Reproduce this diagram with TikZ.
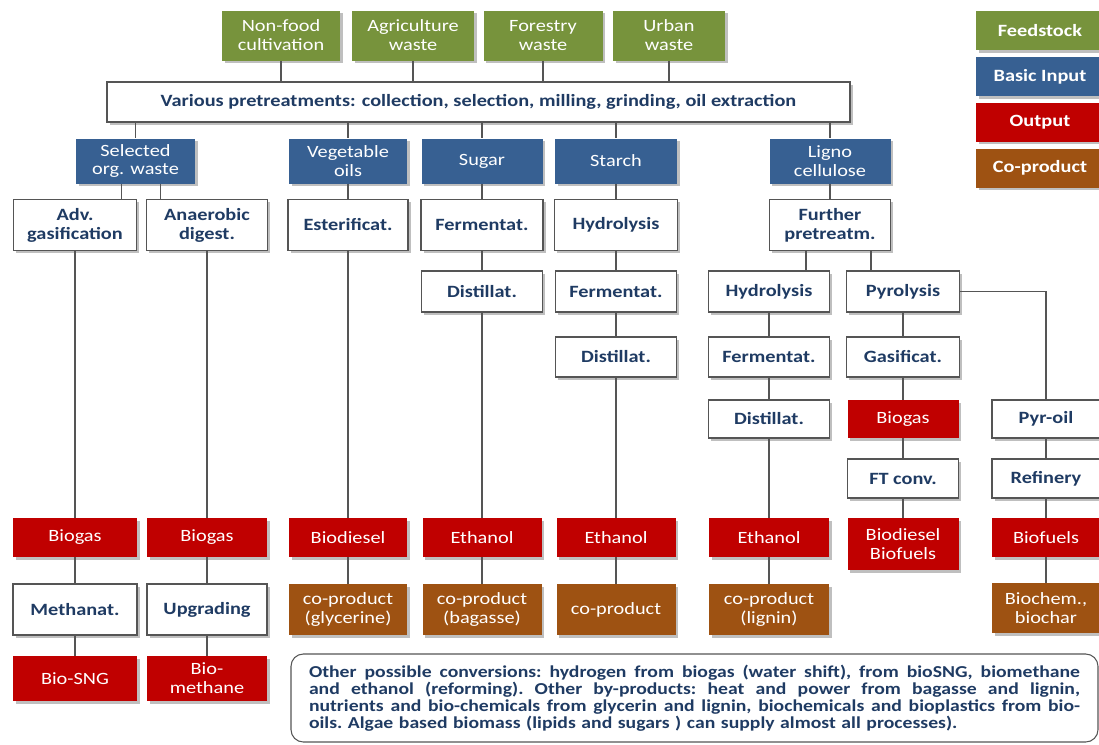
\documentclass[tikz,border=0pt]{standalone}
\usepackage{fontspec}
\setmainfont{Carlito}[FakeStretch=1.18]
\usetikzlibrary{shadows, calc}

\definecolor{feedgreen}{HTML}{77933C}
\definecolor{inputblue}{HTML}{376092}
\definecolor{outred}{HTML}{C00000}
\definecolor{cobrown}{HTML}{9E5212}
\definecolor{navytext}{HTML}{1F3B63}
\definecolor{linegray}{HTML}{555555}

\newlength\pxu
\setlength\pxu{0.02cm}
% one justified line of the note
\newcommand\noteline[1]{\leavevmode\hbox to 771\pxu{\spaceskip=0.23em plus 1em minus 0.05em\relax #1}}

\begin{document}
\begin{tikzpicture}[
            x = 0.02cm, y = -0.02cm, % one unit = one pixel of the layout
            bw/.style = {minimum width = #1*\pxu}, % box width
            bh/.style = {minimum height = #1*\pxu}, % box height
            link/.style = {draw = linegray, line width = 0.7pt} % connector
        ]

        \tikzstyle{box}=[
            rectangle,
            inner sep = 1pt,
            align = center,
            font = \fontsize{9.8}{10.8}\selectfont,
            drop shadow = {shadow xshift = 1.6pt, shadow yshift = -1.6pt,
                           fill = black, opacity = 0.25}
        ]
        \tikzstyle{feed}=[box, fill = feedgreen, text = white, bh = 50]
        \tikzstyle{basic}=[box, fill = inputblue, text = white, bh = 45]
        \tikzstyle{proc}=[box, draw = linegray, line width = 0.7pt, fill = white,
            text = navytext, font = \fontsize{9.8}{10.8}\selectfont\bfseries]
        \tikzstyle{outp}=[box, fill = outred, text = white]
        \tikzstyle{coprod}=[box, fill = cobrown, text = white]
        \tikzstyle{legend}=[box, text = white, bw = 128, bh = 39,
            font = \fontsize{9.8}{10.8}\selectfont\bfseries]

        \useasboundingbox (0,0) rectangle (1099,744);

        % feedstock
        \node[feed, bw=118] (nf) at (281,35.5) {Non-food\\cultivation};
        \node[feed, bw=122] (ag) at (413,35.5) {Agriculture\\waste};
        \node[feed, bw=119] (fo) at (543,35.5) {Forestry\\waste};
        \node[feed, bw=112] (ur) at (669,35.5) {Urban\\waste};

        \node[proc, bw=743, bh=40] (pre) at (478.5,102)
            {Various pretreatments: collection, selection, milling, grinding, oil extraction};

        % basic inputs
        \node[basic, bw=119] (sel) at (135.5,161) {Selected\\org. waste};
        \node[basic, bw=118] (veg) at (348,161) {Vegetable\\oils};
        \node[basic, bw=121] (sug) at (482,161) {Sugar};
        \node[basic, bw=122] (sta) at (616,161) {Starch};
        \node[basic, bw=121] (lig) at (830,161) {Ligno\\cellulose};

        % processes
        \node[proc, bw=123, bh=51] (adv) at (75,225) {Adv.\\gasification};
        \node[proc, bw=121, bh=51] (ana) at (207,225) {Anaerobic\\digest.};
        \node[proc, bw=120, bh=51] (est) at (348,225) {Esterificat.};
        \node[proc, bw=122, bh=51] (fer1) at (482,225) {Fermentat.};
        \node[proc, bw=123, bh=51] (hyd1) at (616,225) {Hydrolysis};
        \node[proc, bw=121, bh=51] (fur) at (830,225) {Further\\pretreatm.};

        \node[proc, bw=121, bh=41] (dis1) at (482,291.5) {Distillat.};
        \node[proc, bw=121, bh=41] (fer2) at (616,291.5) {Fermentat.};
        \node[proc, bw=121, bh=41] (hyd2) at (769,291.5) {Hydrolysis};
        \node[proc, bw=113, bh=41] (pyr) at (903,291.5) {Pyrolysis};

        \node[proc, bw=121, bh=40] (dis2) at (616,357) {Distillat.};
        \node[proc, bw=121, bh=40] (fer3) at (769,357) {Fermentat.};
        \node[proc, bw=113, bh=40] (gas) at (903,357) {Gasificat.};

        \node[proc, bw=121, bh=38] (dis3) at (769,419) {Distillat.};
        \node[outp, bw=111, bh=38] (bgs) at (903,419) {Biogas};
        \node[proc, bw=108, bh=38] (pyo) at (1046,419) {Pyr-oil};

        \node[proc, bw=111, bh=39] (ft) at (903,478.5) {FT conv.};
        \node[proc, bw=108, bh=39] (ref) at (1046,478.5) {Refinery};

        % outputs
        \node[outp, bw=124, bh=39] (bg1) at (75,537.5) {Biogas};
        \node[outp, bw=120, bh=39] (bg2) at (207,537.5) {Biogas};
        \node[outp, bw=118, bh=39] (bd) at (348,537.5) {Biodiesel};
        \node[outp, bw=119, bh=39] (eth1) at (482,537.5) {Ethanol};
        \node[outp, bw=119, bh=39] (eth2) at (616,537.5) {Ethanol};
        \node[outp, bw=120, bh=39] (eth3) at (769,537.5) {Ethanol};
        \node[outp, bw=111, bh=52] (bdbf) at (903,544) {Biodiesel\\Biofuels};
        \node[outp, bw=108, bh=39] (bf) at (1046,537.5) {Biofuels};

        % co-products
        \node[proc, bw=124, bh=51] (meth) at (75,609.5) {Methanat.};
        \node[proc, bw=120, bh=51] (upg) at (207,609.5) {Upgrading};
        \node[coprod, bw=118, bh=51] (gly) at (348,609.5) {co-product\\(glycerine)};
        \node[coprod, bw=119, bh=51] (bag) at (482,609.5) {co-product\\(bagasse)};
        \node[coprod, bw=119, bh=51] (cop) at (616,609.5) {co-product};
        \node[coprod, bw=120, bh=51] (lign) at (769,609.5) {co-product\\(lignin)};
        \node[coprod, bw=108, bh=50] (bch) at (1046,608) {Biochem.,\\biochar};

        \node[outp, bw=124, bh=45] (sng) at (75,678.5) {Bio-SNG};
        \node[outp, bw=120, bh=45] (bme) at (207,678.5) {Bio-\\methane};

        % legend
        \node[legend, fill=feedgreen] (lfs) at (1040,30.5) {Feedstock};
        \node[legend, fill=inputblue] (lbi) at (1040,76.5) {Basic Input};
        \node[legend, fill=outred] (lout) at (1040,122) {Output};
        \node[legend, fill=cobrown] (lco) at (1040,168) {Co-product};

        % note
        \node[draw=linegray, line width=0.6pt, rounded corners=7pt, fill=white,
              minimum width=807*\pxu, minimum height=88*\pxu, text width=771*\pxu,
              align=left, text=navytext, inner sep=0pt,
              font=\fontsize{9.5}{9.7}\selectfont\bfseries\frenchspacing] (note) at (694.5,698)
            {\noteline{Other possible conversions: hydrogen from biogas (water shift), from bioSNG, biomethane}\\
             \noteline{and ethanol (reforming). Other by-products: heat and power from bagasse and lignin,}\\
             \noteline{nutrients and bio-chemicals from glycerin and lignin, biochemicals and bioplastics from bio-}\\
             oils. Algae based biomass (lipids and sugars ) can supply almost all processes).};

        % connectors
        \foreach \f in {nf, ag, fo, ur}
            \draw[link] (\f.south) -- (\f.south |- pre.north);
        \foreach \b in {sel, veg, sug, sta, lig}
            \draw[link] (pre.south -| \b) -- (\b.north);

        \coordinate (s1) at ($(sel.south)+(-14,0)$);
        \coordinate (s2) at ($(sel.south)+(25,0)$);
        \draw[link] (s1) -- (s1 |- adv.north);
        \draw[link] (s2) -- (s2 |- ana.north);

        \coordinate (f1) at ($(fur.south)+(-24,0)$);
        \coordinate (f2) at ($(fur.south)+(41,0)$);
        \draw[link] (f1) -- (f1 |- hyd2.north);
        \draw[link] (f2) -- (f2 |- pyr.north);

        \foreach \a/\b in {adv/bg1, bg1/meth, meth/sng, ana/bg2, bg2/upg, upg/bme,
                           veg/est, est/bd, bd/gly, sug/fer1, fer1/dis1, dis1/eth1,
                           eth1/bag, sta/hyd1, hyd1/fer2, fer2/dis2, dis2/eth2,
                           eth2/cop, lig/fur, hyd2/fer3, fer3/dis3, dis3/eth3,
                           eth3/lign, pyr/gas, gas/bgs, bgs/ft, ft/bdbf,
                           pyo/ref, ref/bf, bf/bch}
            \draw[link] (\a.south) -- (\b.north);

        \draw[link] (pyr.east) -| (pyo.north);

\end{tikzpicture}
\end{document}
